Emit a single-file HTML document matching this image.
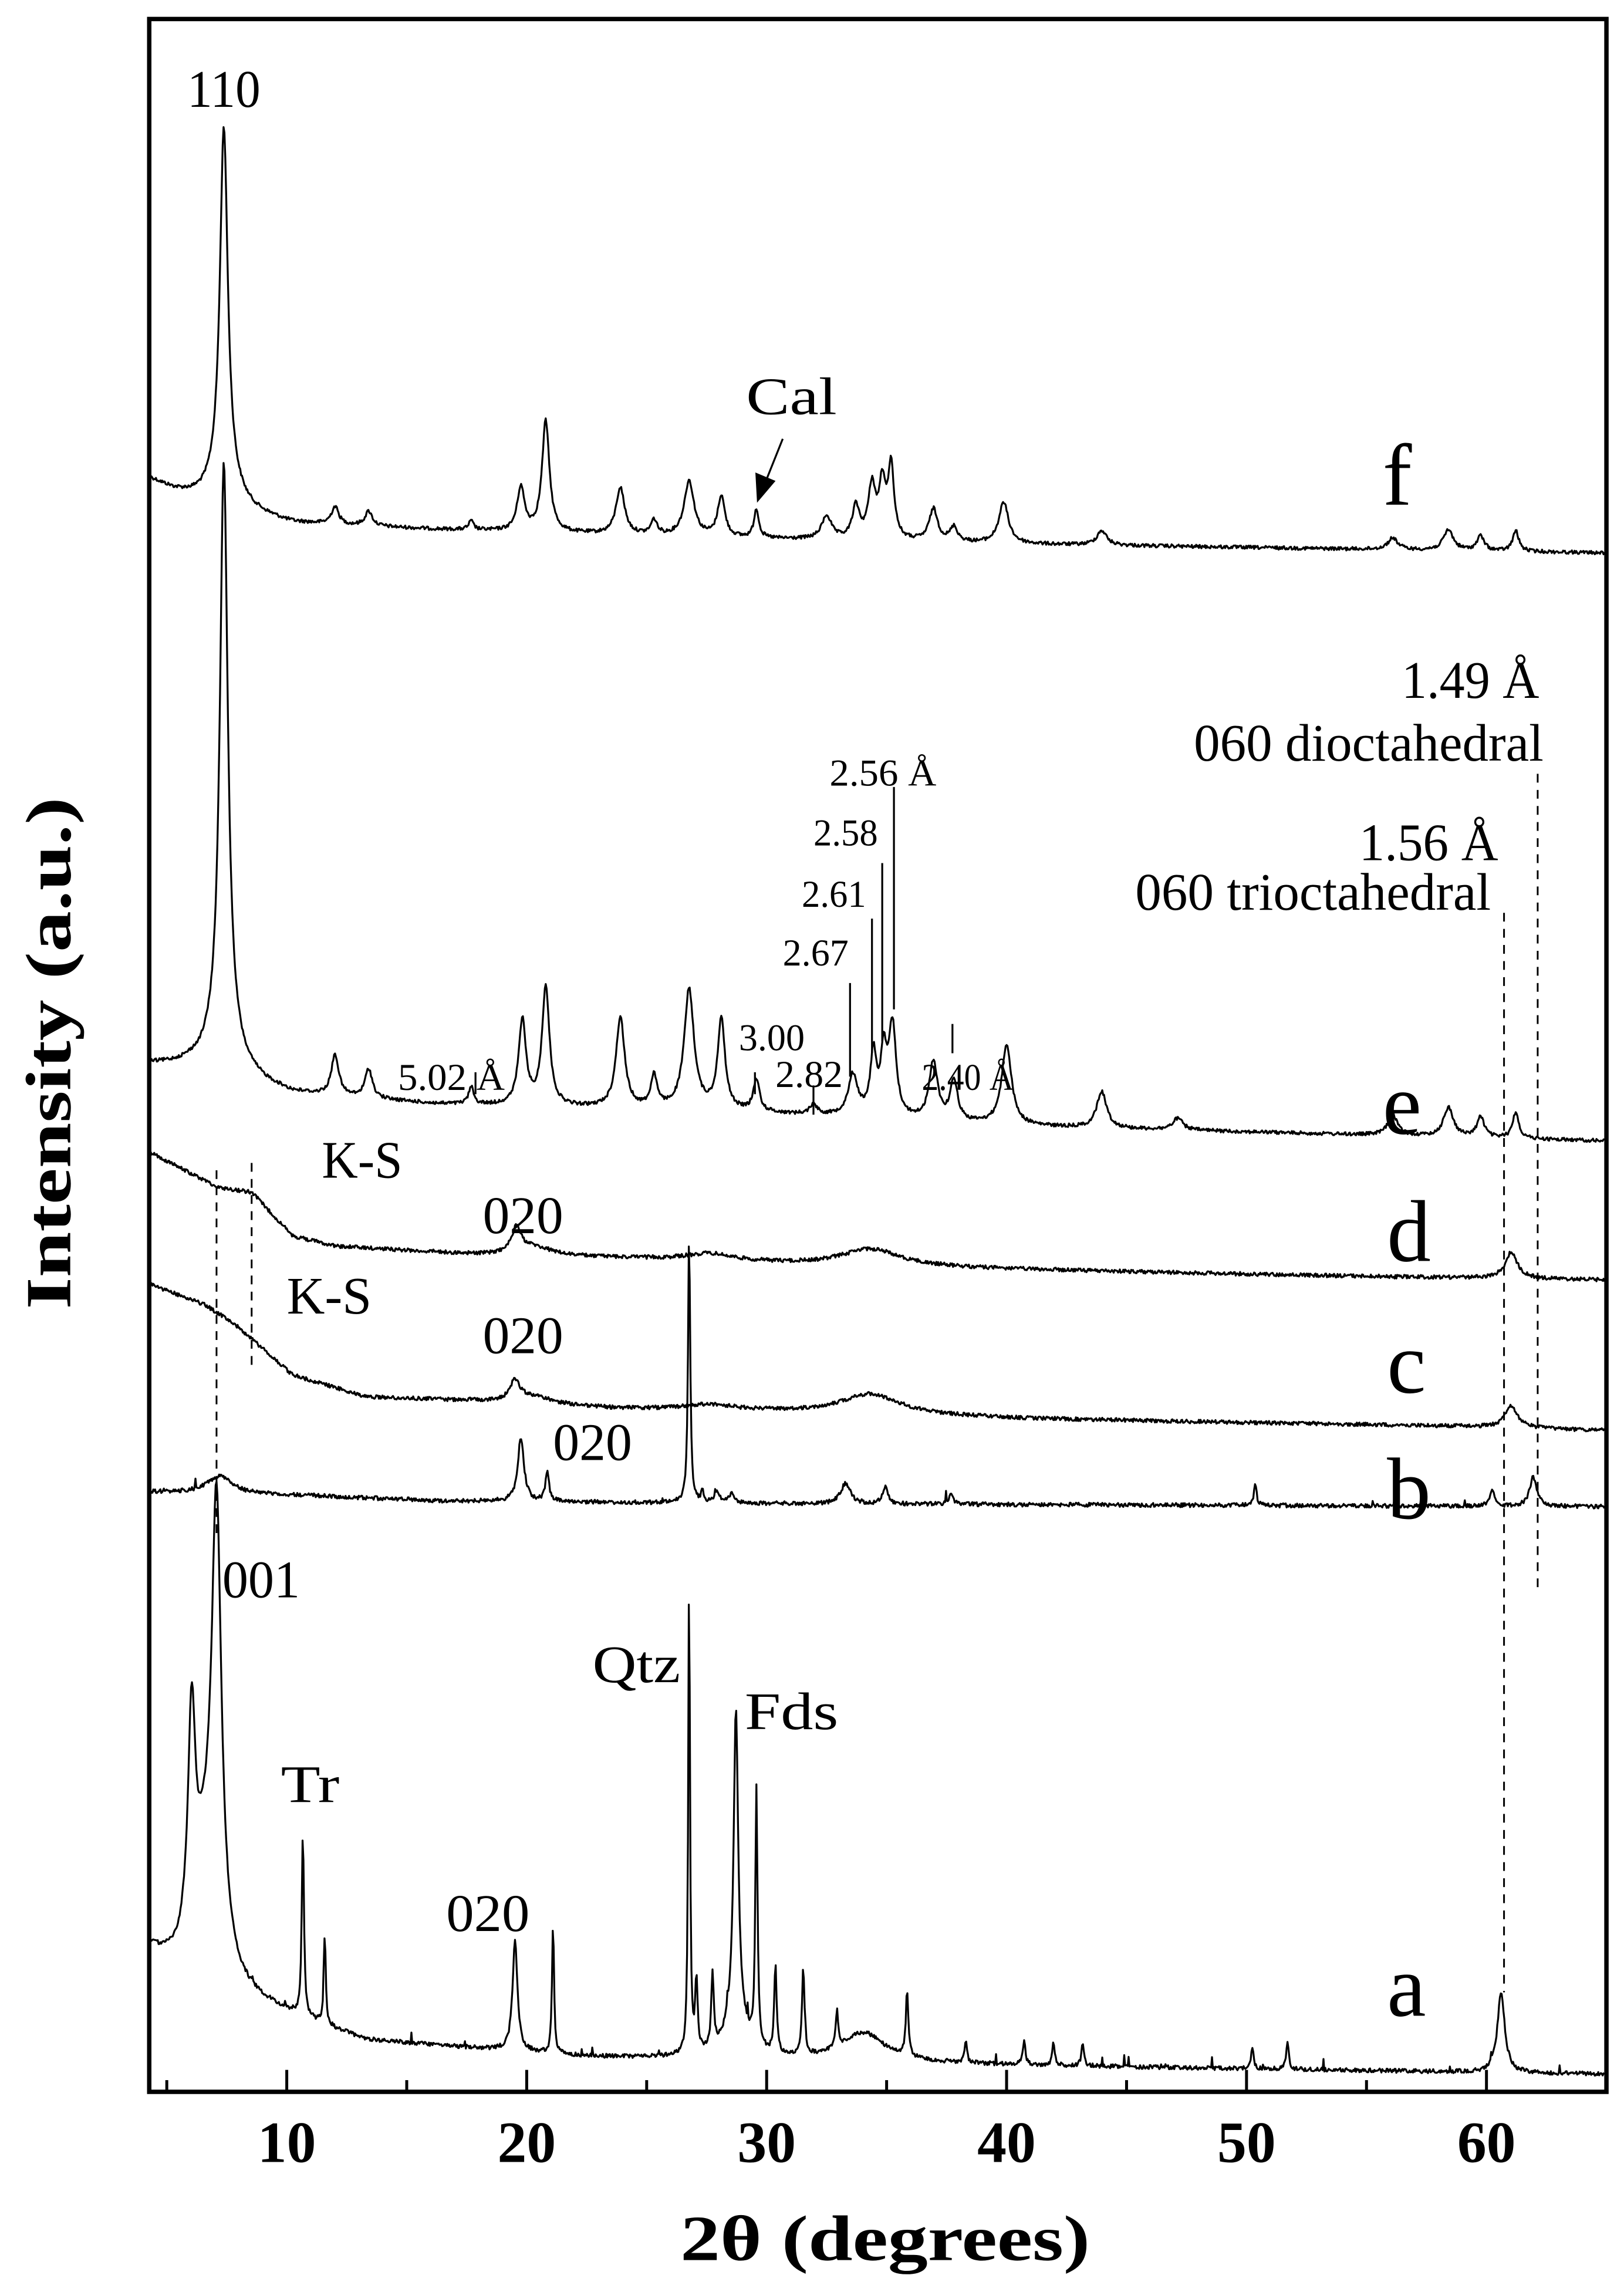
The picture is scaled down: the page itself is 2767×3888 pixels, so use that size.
<!DOCTYPE html>
<html><head><meta charset="utf-8"><style>
html,body{margin:0;padding:0;background:#fff}
svg{display:block}
text{font-family:"Liberation Serif","DejaVu Serif",serif;fill:#000}
</style></head><body>
<svg id="s" width="2767" height="3888" viewBox="0 0 1110 1560" preserveAspectRatio="none" xmlns="http://www.w3.org/2000/svg">
<rect x="0" y="0" width="1110" height="1560" fill="#fff"/>
<g id="curves" fill="none" stroke="#000" stroke-width="1.3" stroke-linejoin="round"></g>
<g stroke="#000" stroke-width="1.2" stroke-dasharray="6,5" fill="none">
<line x1="148" y1="800" x2="148" y2="1048"/>
<line x1="172" y1="795" x2="172" y2="937"/>
<line x1="1028" y1="624" x2="1028" y2="1362"/>
<line x1="1051" y1="529" x2="1051" y2="1088"/>
</g>
<g stroke="#000" stroke-width="1.3">
<line x1="325" y1="733" x2="325" y2="748"/>
<line x1="516" y1="733" x2="516" y2="748"/>
<line x1="556" y1="742" x2="556" y2="762"/>
<line x1="581" y1="672" x2="581" y2="736"/>
<line x1="596" y1="628" x2="596" y2="720"/>
<line x1="603" y1="590" x2="603" y2="712"/>
<line x1="611" y1="538" x2="611" y2="690"/>
<line x1="651" y1="700" x2="651" y2="720"/>
<line x1="535" y1="300" x2="523" y2="330"/>
<polygon points="518,342 517,324 529,329"/>
</g>
<rect x="102" y="13" width="996" height="1417" fill="none" stroke="#000" stroke-width="3"/>
<g id="ticks" stroke="#000" stroke-width="2"></g>
<g font-size="36">
<text x="128" y="73" textLength="50" lengthAdjust="spacingAndGlyphs">110</text>
<text x="510" y="283" textLength="62" lengthAdjust="spacingAndGlyphs">Cal</text>
<text x="945" y="345" font-size="60">f</text>
<text x="945" y="775" font-size="60">e</text>
<text x="948" y="862" font-size="60">d</text>
<text x="948" y="952" font-size="60">c</text>
<text x="948" y="1038" font-size="60">b</text>
<text x="948" y="1378" font-size="60">a</text>
<text x="958" y="477" textLength="94" lengthAdjust="spacingAndGlyphs">1.49 Å</text>
<text x="816" y="520" textLength="239" lengthAdjust="spacingAndGlyphs">060 dioctahedral</text>
<text x="929" y="588" textLength="95" lengthAdjust="spacingAndGlyphs">1.56 Å</text>
<text x="776" y="622" textLength="243" lengthAdjust="spacingAndGlyphs">060 trioctahedral</text>
<text x="405" y="1150" textLength="60" lengthAdjust="spacingAndGlyphs">Qtz</text>
<text x="509" y="1182" textLength="64" lengthAdjust="spacingAndGlyphs">Fds</text>
<text x="192" y="1232" textLength="40" lengthAdjust="spacingAndGlyphs">Tr</text>
<text x="305" y="1320" textLength="57" lengthAdjust="spacingAndGlyphs">020</text>
<text x="152" y="1092" textLength="53" lengthAdjust="spacingAndGlyphs">001</text>
<text x="378" y="998" textLength="54" lengthAdjust="spacingAndGlyphs">020</text>
<text x="330" y="925" textLength="55" lengthAdjust="spacingAndGlyphs">020</text>
<text x="330" y="843" textLength="55" lengthAdjust="spacingAndGlyphs">020</text>
<text x="220" y="805" textLength="55" lengthAdjust="spacingAndGlyphs">K-S</text>
<text x="196" y="898" textLength="58" lengthAdjust="spacingAndGlyphs">K-S</text>
</g>
<g font-size="26">
<text x="567" y="537" textLength="73" lengthAdjust="spacingAndGlyphs">2.56 Å</text>
<text x="556" y="578" textLength="44" lengthAdjust="spacingAndGlyphs">2.58</text>
<text x="548" y="620" textLength="44" lengthAdjust="spacingAndGlyphs">2.61</text>
<text x="535" y="660" textLength="45" lengthAdjust="spacingAndGlyphs">2.67</text>
<text x="272" y="745" textLength="73" lengthAdjust="spacingAndGlyphs">5.02 Å</text>
<text x="505" y="718" textLength="45" lengthAdjust="spacingAndGlyphs">3.00</text>
<text x="530" y="743" textLength="46" lengthAdjust="spacingAndGlyphs">2.82</text>
<text x="630" y="745" textLength="63" lengthAdjust="spacingAndGlyphs">2.40 Å</text>
</g>
<g font-size="40" font-weight="bold" text-anchor="middle" id="ticklabels"></g>
<text x="605" y="1545" font-size="44" font-weight="bold" text-anchor="middle" textLength="280" lengthAdjust="spacingAndGlyphs">2θ (degrees)</text>
<text transform="translate(48,720) rotate(-90)" font-size="44" font-weight="bold" text-anchor="middle" textLength="350" lengthAdjust="spacingAndGlyphs">Intensity (a.u.)</text>
</svg>
<script>
(function(){
var NS="http://www.w3.org/2000/svg";
var seed=12345;function rnd(){seed=(seed*1103515245+12345)%2147483648;return seed/2147483648;}
function X(d){return 196+(d-10)*16.4;}
var tg=document.getElementById('ticks'),tl=document.getElementById('ticklabels');
for(var d=5;d<=65;d+=5){var x=X(d);if(x>1097)continue;var l=document.createElementNS(NS,'line');
l.setAttribute('x1',x);l.setAttribute('x2',x);l.setAttribute('y1',1430);l.setAttribute('y2',d%10==0?1415:1422);tg.appendChild(l);
if(d%10==0){var t=document.createElementNS(NS,'text');t.setAttribute('x',x);t.setAttribute('y',1478);t.textContent=d;tl.appendChild(t);}}
function interp(pts,x){if(x<=pts[0][0])return pts[0][1];for(var i=1;i<pts.length;i++){if(x<=pts[i][0]){var a=pts[i-1],b=pts[i];return a[1]+(b[1]-a[1])*(x-a[0])/(b[0]-a[0]);}}return pts[pts.length-1][1];}
function curve(base,peaks,noise,spikes){var s='';var g=document.getElementById('curves');
for(var x=103;x<=1097;x+=0.6){var y=interp(base,x);
for(var k=0;k<peaks.length;k++){var p=peaks[k];var u=(x-p[0])/p[2];y-=p[1]/(1+u*u);}
y+=(rnd()-0.5)*noise*2;
if(spikes&&rnd()<spikes)y-=rnd()*8;
s+=(s?'L':'M')+x.toFixed(1)+','+y.toFixed(1);}
var p=document.createElementNS(NS,'path');p.setAttribute('d',s);g.appendChild(p);}
// f
curve([[103,328],[118,336],[140,345],[170,352],[200,358],[300,362],[500,368],[700,372],[1100,378]],
[[153,242,3.2],[153,20,12],[229,12,3],[252,10,3],[322,6,2],[356,30,3],[373,76,3],[424,32,3.5],[447,10,2.5],[471,38,4],[493,28,3],[517,20,2],[565,16,4],[585,22,3],[596,36,3],[603,36,2.5],[609,50,2.5],[638,22,3.5],[652,10,3],[686,28,4],[753,10,4],[952,8,4],[990,14,4],[1012,10,3],[1036,14,2.5]],1.2,0);
// e
curve([[103,728],[130,730],[170,740],[200,748],[300,755],[500,760],[700,770],[1100,780]],
[[153,395,3.2],[153,25,12],[229,28,3],[252,20,3],[322,12,2],[357,58,3],[373,82,3],[424,62,3.5],[447,22,2.5],[471,82,4],[493,62,3],[517,22,2.5],[556,7,3],[583,28,4],[597,42,2.5],[604,40,2.5],[610,62,3],[638,40,3.5],[652,28,3],[688,55,4],[753,25,4],[805,8,4],[952,14,4],[990,20,4],[1012,14,3],[1036,18,2.5]],1.2,0);
// d
curve([[103,788],[130,802],[150,812],[172,815],[200,845],[230,852],[330,858],[420,860],[560,865],[700,868],[900,872],[1100,875]],
[[353,17,4],[365,6,15],[485,5,20],[595,12,25],[1033,18,5]],1.3,0);
// c
curve([[103,878],[140,892],[160,905],[175,918],[200,940],[250,955],[330,958],[420,963],[560,966],[700,970],[1000,975],[1100,978]],
[[352,14,4],[365,5,15],[485,4,20],[595,14,25],[1033,15,5]],1.3,0);
// b
curve([[103,1020],[200,1022],[300,1026],[420,1027],[550,1028],[1100,1030]],
[[150,12,10],[356,44,2.5],[374,20,1.5],[471,183,0.9],[480,8,1],[490,8,2],[500,6,2],[578,14,4],[605,12,2],[650,6,2],[858,16,1],[1020,10,2],[1048,20,3]],1.4,0.01);
// a
curve([[103,1335],[120,1350],[175,1370],[250,1395],[400,1406],[700,1412],[1100,1418]],
[[131,150,3],[148,300,4],[140,70,10],[207,125,0.9],[222,60,0.8],[352,75,2],[378,90,0.8],[471,330,0.7],[476,50,1],[487,52,1],[503,210,1.8],[503,30,8],[517,175,0.9],[530,60,1],[549,60,1],[572,25,1],[590,20,18],[620,45,1],[660,15,1],[700,18,1],[720,16,1],[740,15,1],[856,15,1],[880,20,1],[1026,55,3],[1100,8,1]],1.4,0.02);
})();
</script>
</body></html>
